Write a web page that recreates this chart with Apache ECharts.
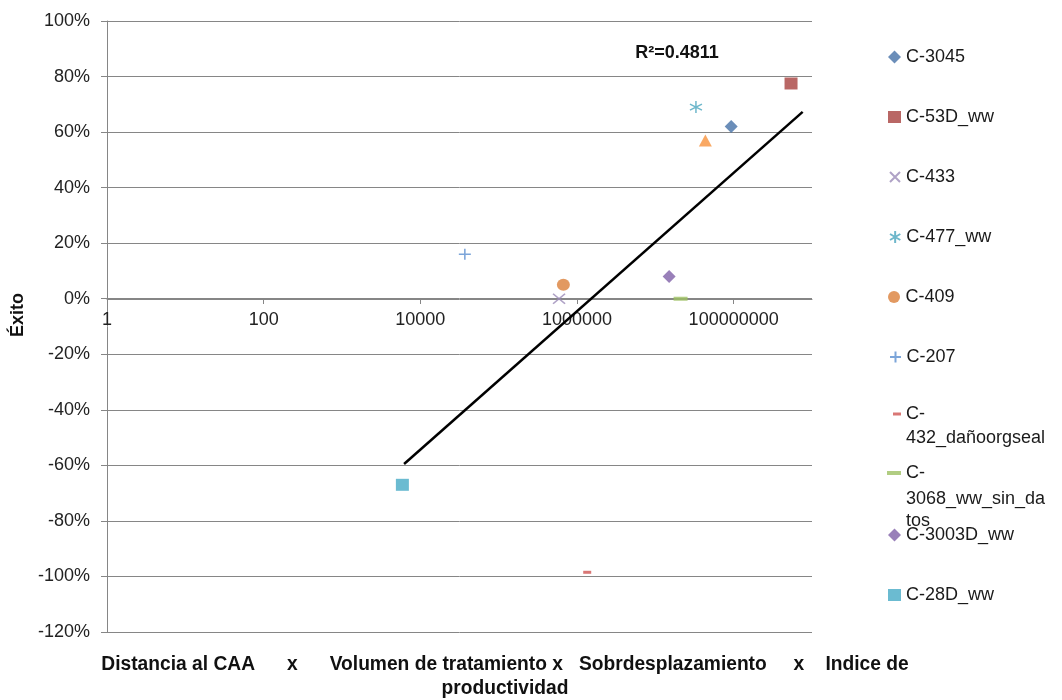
<!DOCTYPE html>
<html lang="es">
<head>
<meta charset="UTF-8">
<title>Éxito</title>
<style>html,body{margin:0;padding:0;background:#fff}</style>
</head>
<body>
<div id="main" style="width:1062px;height:700px"></div>
<script src="https://cdn.jsdelivr.net/npm/echarts@6/dist/echarts.min.js"></script>
<script>
// datos
var names = ['C-3045', 'C-53D_ww', 'C-433', 'C-477_ww', 'C-409', 'C-207',
    'C-432_dañoorgseal', 'C-3068_ww_sin_datos', 'C-3003D_ww', 'C-28D_ww'];
var xVals = [9.3e7, 5.4e8, 5.9e5, 3.3e7, 6.7e5, 3.7e4, 1.35e6, 2.1e7, 1.5e7, 5.9e3];
var yVals = [62, 77.5, 0, 69, 5, 16, -98.5, 0, 8, -67];
// punto sin entrada en la leyenda (triangulo)
var extraX = [4.35e7];
var extraY = [57];
// extremos de la linea de tendencia
var trendX = [6.2e3, 7.6e8];
var trendY = [-59.5, 67.3];
var xTickLabels = ['1', '100', '10000', '1000000', '100000000'];

// estilo de cada serie
var pX = 'path://M0,0L10,10M10,0L0,10';
var pStar = 'path://M5,0L5,10M0.7,2.5L9.3,7.5M9.3,2.5L0.7,7.5';
var pPlus = 'path://M5,0L5,10M0,5L10,5';
var colors = ['#4672A8', '#A8413F', '#9B8BB8', '#4AA5BE', '#DB7F3A', '#5B8ED0',
    '#D05552', '#9DC063', '#8060A8', '#46AAC5'];
var symbols = ['diamond', 'rect', pX, pStar, 'circle', pPlus, 'rect', 'rect', 'diamond', 'rect'];
var sizes = [[13, 13], [13, 12], [12, 10], [12, 12], [13, 12], [12, 11], [8, 3], [14, 4], [13, 13], [13, 12]];
var stroked = [false, false, true, true, false, true, false, false, false, false];
var legendY = [57, 117, 177, 237, 297, 357, 414, 473, 535, 595];
var legendFirst = ['C-3045', 'C-53D_ww', 'C-433', 'C-477_ww', 'C-409', 'C-207', 'C-', 'C-', 'C-3003D_ww', 'C-28D_ww'];

var font = 'Liberation Sans';
var series = [];
var legends = [];
for (var i = 0; i < names.length; i++) {
    var st = stroked[i]
        ? { color: 'rgba(0,0,0,0)', borderColor: colors[i], borderWidth: 1.5 }
        : { color: colors[i] };
    series.push({
        name: names[i],
        type: 'scatter',
        symbol: symbols[i],
        symbolSize: sizes[i],
        itemStyle: st,
        data: [[xVals[i], yVals[i]]]
    });
    var iw = sizes[i][0], ih = sizes[i][1];
    legends.push({
        data: [names[i]],
        icon: symbols[i],
        itemWidth: iw,
        itemHeight: ih,
        left: 906 - 5 - iw,
        top: legendY[i] - 9,
        padding: 0,
        selectedMode: false,
        formatter: (function (t) { return function () { return t; }; })(legendFirst[i]),
        textStyle: { fontFamily: font, fontSize: 18, lineHeight: 18, color: '#1a1a1a' }
    });
}
series.push({
    name: 'C-extra',
    type: 'scatter',
    symbol: 'triangle',
    symbolSize: [13, 12],
    itemStyle: { color: '#F7923C' },
    data: extraX.map(function (x, k) { return [x, extraY[k]]; })
});
series.push({
    name: 'tendencia',
    type: 'line',
    showSymbol: false,
    silent: true,
    lineStyle: { color: '#000', width: 2.5 },
    data: trendX.map(function (x, k) { return [x, trendY[k]]; })
});

var myChart = echarts.init(document.getElementById('main'));
var option = {
    backgroundColor: '#fff',
    animation: false,
    grid: { left: 107, right: 250, top: 21, bottom: 68 },
    legend: legends,
    xAxis: {
        type: 'log',
        logBase: 100,
        min: 1,
        max: 1e9,
        // eje horizontal dibujado a la altura del 0%
        offset: -333,
        axisLine: { onZero: false, lineStyle: { color: '#868686', width: 1 } },
        axisTick: { show: true, length: 5, lineStyle: { color: '#868686' } },
        splitLine: { show: false },
        axisLabel: {
            margin: 12,
            showMaxLabel: false,
            fontFamily: font,
            fontSize: 18,
            color: '#222',
            formatter: function (v) {
                var k = Math.round(Math.log(v) / Math.log(100));
                return xTickLabels[k] !== undefined ? xTickLabels[k] : '';
            }
        }
    },
    yAxis: {
        type: 'value',
        min: -120,
        max: 100,
        interval: 20,
        axisLine: { show: true, onZero: false, lineStyle: { color: '#868686', width: 1 } },
        axisTick: { show: true, length: 6, lineStyle: { color: '#868686' } },
        splitLine: { show: true, lineStyle: { color: '#868686', width: 1 } },
        axisLabel: {
            margin: 17,
            fontFamily: font,
            fontSize: 18,
            color: '#222',
            formatter: function (v) { return Math.round(v) + '%'; }
        }
    },
    graphic: [
        {
            type: 'text', x: 677, y: 53,
            style: { text: 'R²=0.4811', font: 'bold 18px ' + font, fill: '#111', align: 'center', verticalAlign: 'middle' }
        },
        {
            type: 'text', x: 18, y: 315, rotation: Math.PI / 2,
            style: { text: 'Éxito', font: 'bold 18px ' + font, fill: '#111', align: 'center', verticalAlign: 'middle' }
        },
        {
            type: 'text', x: 505, y: 664, scaleX: 0.96,
            style: { text: 'Distancia al CAA      x      Volumen de tratamiento x   Sobrdesplazamiento     x    Indice de',
                font: 'bold 20px ' + font, fill: '#111', align: 'center', verticalAlign: 'middle' }
        },
        {
            type: 'text', x: 505, y: 688, scaleX: 0.96,
            style: { text: 'productividad', font: 'bold 20px ' + font, fill: '#111', align: 'center', verticalAlign: 'middle' }
        },
        {
            type: 'text', x: 906, y: 438,
            style: { text: '432_dañoorgseal', font: '18px ' + font, fill: '#1a1a1a', verticalAlign: 'middle' }
        },
        {
            type: 'text', x: 906, y: 499,
            style: { text: '3068_ww_sin_da', font: '18px ' + font, fill: '#1a1a1a', verticalAlign: 'middle' }
        },
        {
            type: 'text', x: 906, y: 521,
            style: { text: 'tos', font: '18px ' + font, fill: '#1a1a1a', verticalAlign: 'middle' }
        }
    ],
    series: series
};
myChart.setOption(option);
</script>
</body>
</html>
